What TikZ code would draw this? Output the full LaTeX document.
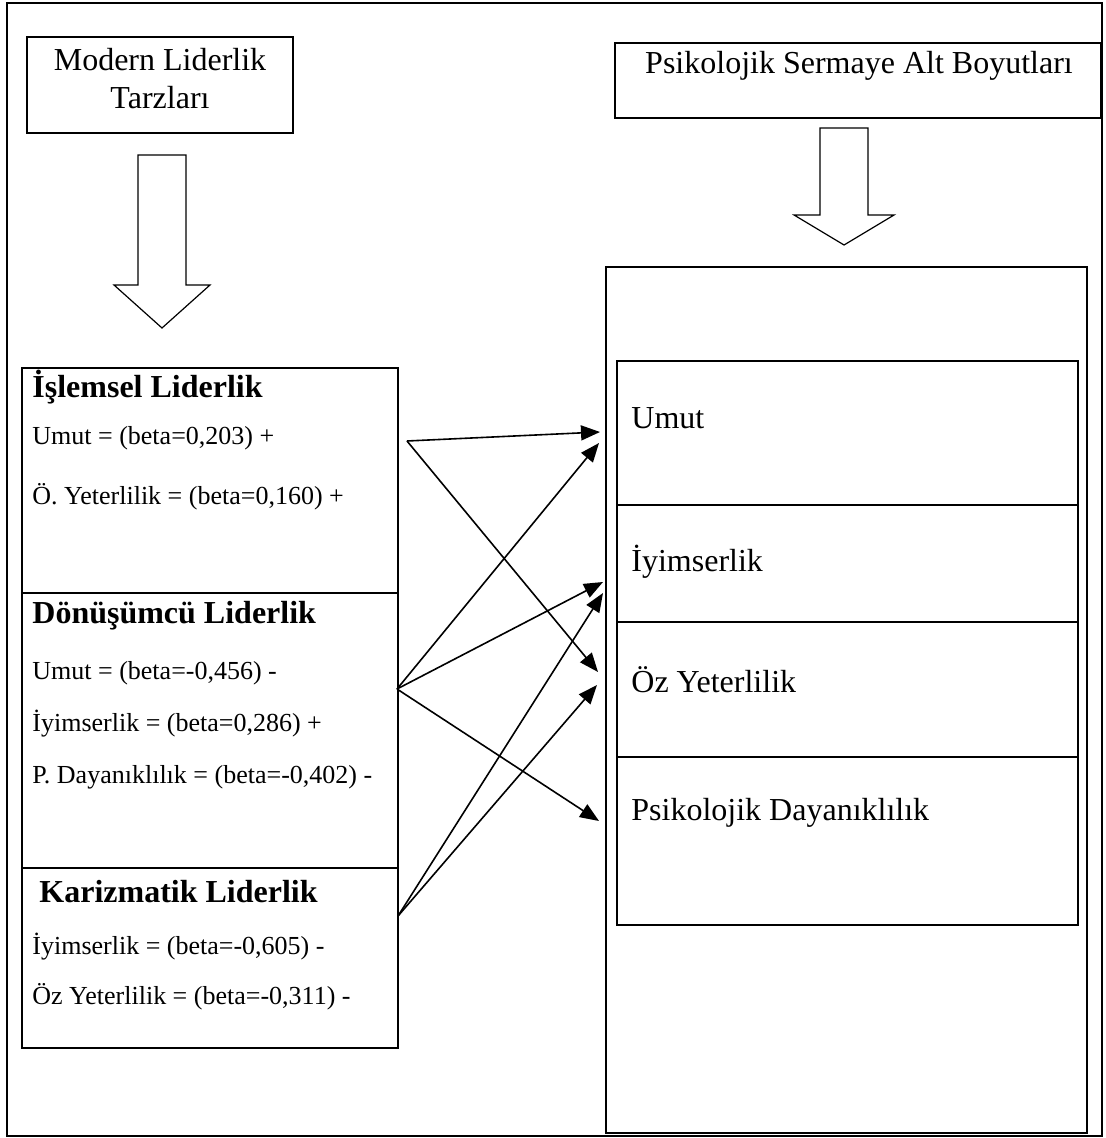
\documentclass[tikz,border=0pt]{standalone}
\usepackage{fontspec}
\setmainfont{Liberation Serif}
\usetikzlibrary{arrows.meta}
\tikzset{>={Triangle[length=9.5pt,width=7.5pt]},
  frame/.style={draw, line width=1.1pt},
  blockarrow/.style={draw, line width=0.6pt, line join=miter},
  big/.style={font=\fontsize{16}{19}\selectfont, inner sep=0pt},
  body/.style={font=\fontsize{13}{15}\selectfont, anchor=west, inner sep=0pt},
  head/.style={font=\fontsize{16}{19}\selectfont\bfseries, anchor=west, inner sep=0pt},
  dim/.style={big, anchor=west},
  link/.style={->, line width=0.8pt},
}
\begin{document}
\begin{tikzpicture}[x=0.5pt, y=-0.5pt]
  \useasboundingbox (0,0) rectangle (1105,1138);
  % outer frame
  \draw[frame] (7,3) rectangle (1102,1136);

  % headings and big arrows
  \draw[frame] (27,37) rectangle (293,133);
  \node[big, align=center] (modern) at (160,79) {Modern Liderlik\\Tarzları};
  \draw[frame] (615,43) rectangle (1101,118);
  \node[big] (psiko) at (859,66) {Psikolojik Sermaye Alt Boyutları};
  \draw[blockarrow] (138,155) -- (186,155) -- (186,285) -- (210,285) -- (162,328)
        -- (114,285) -- (138,285) -- cycle;
  \draw[blockarrow] (820,128) -- (868,128) -- (868,215) -- (894,215) -- (844,245)
        -- (794,215) -- (820,215) -- cycle;

  % leadership styles
  \draw[frame] (22,368) rectangle (398,1048);
  \draw[line width=0.7pt] (22,593) -- (398,593);
  \draw[line width=0.7pt] (22,868) -- (398,868);
  \node[head] (islem) at (32,387) {İşlemsel Liderlik};
  \node[body] (islemA) at (32,438) {Umut = (beta=0,203) +};
  \node[body] (islemB) at (32,497) {Ö. Yeterlilik = (beta=0,160) +};
  \node[head] (donus) at (32,616) {Dönüşümcü Liderlik};
  \node[body] (donusA) at (32,673) {Umut = (beta=-0,456) -};
  \node[body] (donusB) at (32,724) {İyimserlik = (beta=0,286) +};
  \node[body] (donusC) at (32,777) {P. Dayanıklılık = (beta=-0,402) -};
  \node[head] (kariz) at (39,892) {Karizmatik Liderlik};
  \node[body] (karizA) at (32,947) {İyimserlik = (beta=-0,605) -};
  \node[body] (karizB) at (32,997) {Öz Yeterlilik = (beta=-0,311) -};

  % sub dimensions
  \draw[frame] (606,267) rectangle (1087,1133);
  \draw[frame] (617,361) rectangle (1078,925);
  \draw[frame] (617,505) -- (1078,505);
  \draw[frame] (617,622) -- (1078,622);
  \draw[frame] (617,757) -- (1078,757);
  \node[dim] (umut) at (631,418) {Umut};
  \node[dim] (iyim) at (631,562) {İyimserlik};
  \node[dim] (ozyet) at (631,680) {Öz Yeterlilik};
  \node[dim] (dayan) at (631,813) {Psikolojik Dayanıklılık};

  % arrow ends
  \coordinate (islemOut) at (407,441);
  \coordinate (donusOut) at (397,689);
  \coordinate (karizOut) at (398,916);
  \coordinate (umutA) at (600,432);
  \coordinate (umutB) at (599,443);
  \coordinate (iyimA) at (603,582);
  \coordinate (iyimB) at (603,593);
  \coordinate (ozyetA) at (598,672);
  \coordinate (ozyetB) at (597,685);
  \coordinate (dayanA) at (599,821);

  \draw[link] (islemOut) -- (umutA);
  \draw[link] (islemOut) -- (ozyetA);
  \draw[link] (donusOut) -- (umutB);
  \draw[link] (donusOut) -- (iyimA);
  \draw[link] (donusOut) -- (dayanA);
  \draw[link] (karizOut) -- (iyimB);
  \draw[link] (karizOut) -- (ozyetB);
\end{tikzpicture}
\end{document}
